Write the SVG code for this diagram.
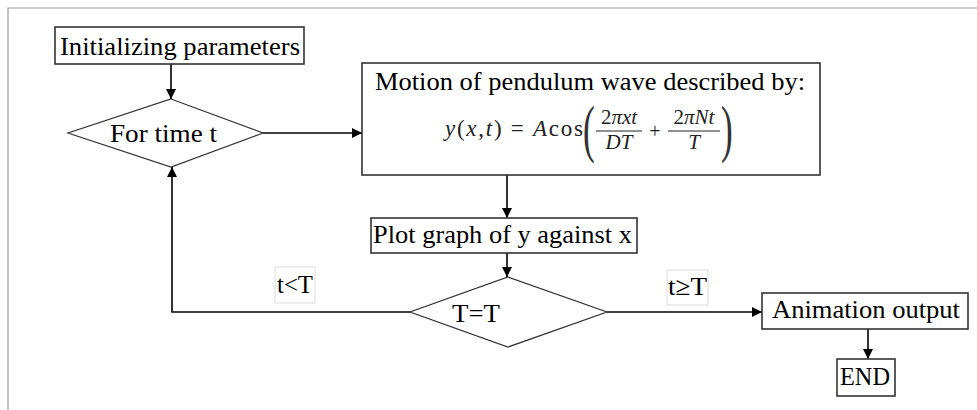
<svg xmlns="http://www.w3.org/2000/svg" width="977" height="410" viewBox="0 0 977 410">
<style>
.box{fill:#fff;stroke:#333;stroke-width:1.6}
.dia{fill:#fff;stroke:#333;stroke-width:1.2}
.lbl{fill:#fff;stroke:#ddd;stroke-width:1}
.con{fill:none;stroke:#000;stroke-width:1.6}
</style>
<defs>
<marker id="ah" viewBox="0 0 10 10" refX="10" refY="5" markerWidth="10" markerHeight="10" markerUnits="userSpaceOnUse" orient="auto">
<path d="M0,0 L10,5 L0,10 Z" fill="#000"/>
</marker>
</defs>
<rect width="977" height="410" fill="#fff"/>
<path d="M8,410 V8 H977" fill="none" stroke="#999" stroke-width="1.2"/>

<g id="connectors">
<path class="con" d="M171,64 V99" marker-end="url(#ah)"/>
<path class="con" d="M263,133 H362" marker-end="url(#ah)"/>
<path class="con" d="M507,175 V218" marker-end="url(#ah)"/>
<path class="con" d="M507,253 V277" marker-end="url(#ah)"/>
<path class="con" d="M410,312 H172 V167" marker-end="url(#ah)"/>
<path class="con" d="M607,312 H762" marker-end="url(#ah)"/>
<path class="con" d="M868,329 V359" marker-end="url(#ah)"/>
</g>

<g font-family="Liberation Serif, Times New Roman, serif" font-size="26" fill="#000">
<g id="init">
<rect class="box" x="55" y="27" width="249" height="37"/>
<text x="60" y="55" textLength="240" lengthAdjust="spacingAndGlyphs">Initializing parameters</text>
</g>

<g id="fortime">
<polygon class="dia" points="171,99 263,133 171,167 68,133"/>
<text x="110" y="142" textLength="107" lengthAdjust="spacingAndGlyphs">For time t</text>
</g>

<g id="motion">
<rect class="box" x="362" y="63" width="458" height="112"/>
<text x="375" y="90" textLength="430" lengthAdjust="spacingAndGlyphs">Motion of pendulum wave described by:</text>
<text x="445" y="136" font-size="23" fill="#222" textLength="138" lengthAdjust="spacing"><tspan font-style="italic">y</tspan>(<tspan font-style="italic">x</tspan>,<tspan font-style="italic">t</tspan>) = <tspan font-style="italic">A</tspan>cos</text>
<text font-size="64" fill="#333" transform="translate(583,150) scale(0.55,1)">(</text>
<text x="619" y="124" font-size="21" fill="#222" text-anchor="middle">2<tspan font-style="italic">πxt</tspan></text>
<line x1="596" y1="131" x2="642" y2="131" stroke="#222" stroke-width="1"/>
<text x="619" y="149" font-size="21" fill="#222" font-style="italic" text-anchor="middle">DT</text>
<text x="655" y="138" font-size="20" fill="#222" text-anchor="middle">+</text>
<text x="694" y="124" font-size="21" fill="#222" text-anchor="middle">2<tspan font-style="italic">πNt</tspan></text>
<line x1="668" y1="131" x2="720" y2="131" stroke="#222" stroke-width="1"/>
<text x="694" y="149" font-size="21" fill="#222" font-style="italic" text-anchor="middle">T</text>
<text font-size="64" fill="#333" transform="translate(721,150) scale(0.55,1)">)</text>
</g>

<g id="plot">
<rect class="box" x="371" y="218" width="266" height="35"/>
<text x="373" y="243" textLength="259" lengthAdjust="spacingAndGlyphs">Plot graph of y against x</text>
</g>

<g id="check">
<polygon class="dia" points="508,277 607,312 508,347 410,312"/>
<text x="452" y="322" textLength="48" lengthAdjust="spacingAndGlyphs">T=T</text>
</g>

<g id="label-lt">
<rect class="lbl" x="275" y="267" width="40" height="36"/>
<text x="277" y="293" textLength="36" lengthAdjust="spacingAndGlyphs">t&lt;T</text>
</g>

<g id="label-ge">
<rect class="lbl" x="667" y="270" width="41" height="35"/>
<text x="668" y="295" textLength="39" lengthAdjust="spacingAndGlyphs">t≥T</text>
</g>

<g id="anim">
<rect class="box" x="762" y="293" width="206" height="36"/>
<text x="772" y="318" textLength="188" lengthAdjust="spacingAndGlyphs">Animation output</text>
</g>

<g id="end">
<rect class="box" x="837" y="359" width="58" height="37"/>
<text x="840" y="385" textLength="50" lengthAdjust="spacingAndGlyphs">END</text>
</g>
</g>
</svg>
